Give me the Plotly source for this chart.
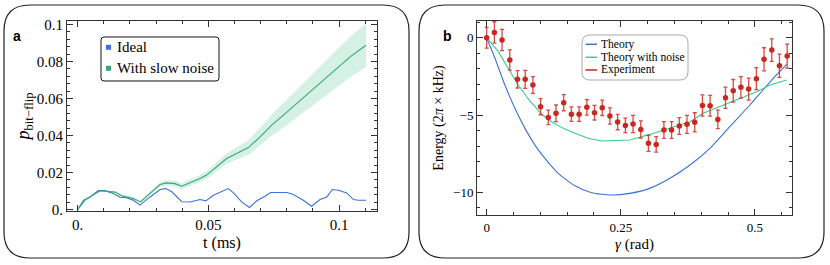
import plotly.graph_objects as go

W, H = 830, 265

# ---------------- Panel a data ----------------
ideal_t = [0, 0.0028, 0.0047, 0.0079, 0.0104, 0.0136, 0.0162, 0.0187, 0.0213, 0.0238,
           0.0277, 0.0315, 0.0337, 0.036, 0.0398, 0.043, 0.0468, 0.049, 0.0519, 0.055,
           0.0576, 0.0596, 0.0627, 0.0657, 0.0685, 0.0717, 0.0738, 0.08, 0.0825, 0.0863,
           0.0895, 0.0927, 0.0953, 0.0974, 0.0997, 0.1029, 0.1055, 0.1074, 0.1103]
ideal_p = [0, 0.0051, 0.0068, 0.0102, 0.0102, 0.0087, 0.0066, 0.0064, 0.005, 0.0024,
           0.0068, 0.0108, 0.0113, 0.0096, 0.0042, 0.0041, 0.0054, 0.0047, 0.0077, 0.0095,
           0.0113, 0.009, 0.0041, 0.0011, 0.0047, 0.0072, 0.0092, 0.0092, 0.0081, 0.005,
           0.0018, 0.0054, 0.0068, 0.0108, 0.0104, 0.009, 0.0054, 0.005, 0.005]

noise_t = [0, 0.0022, 0.0047, 0.0085, 0.011, 0.0143, 0.0168, 0.0213, 0.024, 0.0277,
           0.0315, 0.034, 0.0372, 0.0398, 0.043, 0.0468, 0.0493, 0.0532, 0.057, 0.0608,
           0.0653, 0.0698, 0.0742, 0.0787, 0.0838, 0.0889, 0.094, 0.0991, 0.1042, 0.1103]
noise_p = [0, 0.005, 0.0068, 0.0101, 0.0099, 0.0094, 0.0074, 0.0059, 0.0041, 0.0086,
           0.0135, 0.0144, 0.014, 0.0126, 0.0144, 0.0168, 0.0186, 0.0231, 0.0276, 0.0303,
           0.0335, 0.0393, 0.0456, 0.051, 0.0573, 0.0636, 0.0703, 0.0762, 0.0825, 0.0888]
noise_lo = [0, 0.0048, 0.0065, 0.0097, 0.0095, 0.0089, 0.0067, 0.0051, 0.0033, 0.0076,
            0.0123, 0.013, 0.0125, 0.011, 0.0127, 0.0149, 0.0165, 0.0207, 0.0248, 0.027,
            0.0295, 0.0345, 0.0399, 0.0444, 0.0498, 0.0552, 0.061, 0.066, 0.0715, 0.0771]
noise_hi = [0, 0.0052, 0.0071, 0.0105, 0.0103, 0.0099, 0.0081, 0.0067, 0.0049, 0.0096,
            0.0147, 0.0158, 0.0155, 0.0142, 0.0161, 0.0187, 0.0207, 0.0255, 0.0304, 0.0336,
            0.0375, 0.0441, 0.0513, 0.0576, 0.0648, 0.072, 0.0796, 0.0864, 0.0935, 0.1005]

a_xticks = [0, 0.05, 0.1]
a_xlabels = ["0.", "0.05", "0.1"]
a_yticks = [0, 0.02, 0.04, 0.06, 0.08, 0.1]
a_ylabels = ["0.", "0.02", "0.04", "0.06", "0.08", "0.1"]

# ---------------- Panel b data ----------------
exp_g = [0, 0.0144, 0.0287, 0.0431, 0.0574, 0.0718, 0.0862, 0.1005, 0.1149, 0.1292,
         0.1436, 0.1579, 0.1723, 0.1867, 0.2010, 0.2154, 0.2297, 0.2441, 0.2585, 0.2728,
         0.2872, 0.3015, 0.3159, 0.3303, 0.3446, 0.3590, 0.3733, 0.3877, 0.4021, 0.4164,
         0.4308, 0.4451, 0.4595, 0.4738, 0.4882, 0.5026, 0.5169, 0.5313, 0.5456, 0.56]
exp_E = [0, 0.34, -0.15, -1.44, -2.69, -2.69, -3.06, -4.46, -5.15, -4.89,
         -4.2, -4.94, -4.94, -4.5, -4.85, -4.53, -5.06, -5.45, -5.67, -5.58,
         -5.93, -6.83, -6.9, -5.97, -5.97, -5.71, -5.6, -5.47, -4.38, -4.4,
         -5.28, -3.88, -3.43, -3.21, -3.32, -2.65, -1.4, -0.8, -1.81, -1.19]
exp_err = [0.67, 0.69, 0.69, 0.65, 0.56, 0.58, 0.54, 0.52, 0.47, 0.54,
           0.52, 0.47, 0.47, 0.5, 0.47, 0.5, 0.52, 0.5, 0.47, 0.56,
           0.56, 0.52, 0.5, 0.54, 0.54, 0.54, 0.58, 0.62, 0.69, 0.67,
           0.6, 0.69, 0.73, 0.69, 0.71, 0.71, 0.75, 0.73, 0.75, 0.78]

theory_g = [0, 0.0155, 0.034, 0.0527, 0.0714, 0.09, 0.1086, 0.1334, 0.1645, 0.1956,
            0.2329, 0.267, 0.304, 0.3415, 0.379, 0.416, 0.453, 0.4905, 0.515, 0.54, 0.559]
theory_E = [0, -1.33, -3.06, -4.56, -5.86, -6.94, -7.8, -8.77, -9.57, -10.02,
            -10.17, -10.06, -9.74, -9.09, -8.23, -7.15, -5.75, -4.35, -3.38, -2.41, -1.72]

tnoise_g = [0, 0.0217, 0.04, 0.0589, 0.0775, 0.1024, 0.121, 0.1428, 0.1645, 0.189,
            0.214, 0.2515, 0.267, 0.304, 0.3415, 0.379, 0.4035, 0.4408, 0.478, 0.503,
            0.528, 0.559]
tnoise_E = [0, -0.9, -1.98, -3.06, -3.96, -4.95, -5.43, -5.86, -6.18, -6.5,
            -6.68, -6.63, -6.61, -6.25, -5.86, -5.43, -4.89, -4.35, -3.81, -3.49,
            -3.06, -2.73]

b_xticks = [0, 0.25, 0.5]
b_xlabels = ["0", "0.25", "0.5"]
b_yticks = [0, -5, -10]
b_ylabels = ["0", "−5", "−10"]

# ---------------- Styles ----------------
BLUE = "#3d72d8"
GREEN_A = "#34a878"
GREEN_B = "#3ccb8c"
BAND = "rgba(120,210,170,0.32)"
RED = "#c8281e"
AXC = "#333333"
SERIF = "Liberation Serif, Times New Roman, Times, serif"
SANS = "Liberation Sans, Arial, sans-serif"


def px(x):
    return x / W


def py(y):
    return 1 - y / H


def rrect(x0, y0, x1, y1, r):
    pts = [
        ("M", [(x0 + r, y0)]),
        ("L", [(x1 - r, y0)]),
        ("Q", [(x1, y0), (x1, y0 + r)]),
        ("L", [(x1, y1 - r)]),
        ("Q", [(x1, y1), (x1 - r, y1)]),
        ("L", [(x0 + r, y1)]),
        ("Q", [(x0, y1), (x0, y1 - r)]),
        ("L", [(x0, y0 + r)]),
        ("Q", [(x0, y0), (x0 + r, y0)]),
    ]
    s = ""
    for cmd, coords in pts:
        s += cmd + " " + " ".join(f"{px(a):.5f},{py(b):.5f}" for a, b in coords) + " "
    return s + "Z"


fig = go.Figure()

# Panel a
fig.add_trace(go.Scatter(
    x=noise_t + noise_t[::-1], y=noise_hi + noise_lo[::-1], fill="toself",
    fillcolor=BAND, line=dict(width=0), mode="lines", hoverinfo="skip",
    showlegend=False, xaxis="x", yaxis="y"))
fig.add_trace(go.Scatter(x=ideal_t, y=ideal_p, mode="lines", name="Ideal",
                         line=dict(color=BLUE, width=1.1), xaxis="x", yaxis="y"))
fig.add_trace(go.Scatter(x=noise_t, y=noise_p, mode="lines", name="With slow noise",
                         line=dict(color=GREEN_A, width=1.1), xaxis="x", yaxis="y"))

# Panel b
fig.add_trace(go.Scatter(x=theory_g, y=theory_E, mode="lines", name="Theory",
                         line=dict(color=BLUE, width=1.1, shape="spline", smoothing=0.6),
                         xaxis="x2", yaxis="y2"))
fig.add_trace(go.Scatter(x=tnoise_g, y=tnoise_E, mode="lines", name="Theory with noise",
                         line=dict(color=GREEN_B, width=1.1), xaxis="x2", yaxis="y2"))
fig.add_trace(go.Scatter(x=exp_g, y=exp_E, mode="markers", name="Experiment",
                         marker=dict(color=RED, size=5.5, symbol="circle"),
                         error_y=dict(type="data", array=exp_err, color="rgba(205,45,35,0.85)",
                                      thickness=1.3, width=2),
                         xaxis="x2", yaxis="y2"))

axis_common = dict(showline=True, linecolor=AXC, linewidth=1, mirror="ticks",
                   ticks="inside", ticklen=6, tickcolor=AXC, tickwidth=1,
                   showgrid=False, zeroline=False, automargin=False)

fig.update_layout(
    template="none",
    width=W, height=H, margin=dict(l=0, r=0, t=0, b=0, pad=0),
    paper_bgcolor="white", plot_bgcolor="white", showlegend=False,
    font=dict(family=SERIF, color="black"),
    xaxis=dict(domain=[px(67), px(377)], range=[-0.0041, 0.1145], anchor="y",
               tickvals=a_xticks, ticktext=a_xlabels,
               tickfont=dict(family=SERIF, size=15, color="black"),
               minor=dict(ticks="inside", ticklen=3, dtick=0.01, tick0=0, tickcolor=AXC),
               title=dict(text="t (ms)", font=dict(family=SERIF, size=16, color="black"),
                          standoff=4),
               **axis_common),
    yaxis=dict(domain=[py(211), py(21)], range=[-0.0008, 0.1019], anchor="x",
               tickvals=a_yticks, ticktext=a_ylabels,
               tickfont=dict(family=SERIF, size=15, color="black"),
               minor=dict(ticks="inside", ticklen=3, dtick=0.004, tick0=0, tickcolor=AXC),
               title=dict(text="<i>p</i><sub>bit−flip</sub>",
                          font=dict(family=SERIF, size=18, color="black"), standoff=2),
               **axis_common),
    xaxis2=dict(domain=[px(477), px(792)], range=[-0.018, 0.569], anchor="y2",
                tickvals=b_xticks, ticktext=b_xlabels,
                tickfont=dict(family=SERIF, size=13, color="black"),
                minor=dict(ticks="inside", ticklen=3, dtick=0.05, tick0=0, tickcolor=AXC),
                title=dict(text="<i>γ</i> (rad)", font=dict(family=SERIF, size=15, color="black"),
                           standoff=4),
                **axis_common),
    yaxis2=dict(domain=[py(215), py(21)], range=[-11.46, 1.08], anchor="x2",
                tickvals=b_yticks, ticktext=b_ylabels,
                tickfont=dict(family=SERIF, size=13, color="black"),
                minor=dict(ticks="inside", ticklen=3, dtick=1, tick0=0, tickcolor=AXC),
                title=dict(text="Energy (2<i>π</i> × kHz)",
                           font=dict(family=SERIF, size=14, color="black"), standoff=6),
                **axis_common),
)

shapes = []
# panel frames
shapes.append(dict(type="path", xref="paper", yref="paper", path=rrect(4, 5, 409, 258, 26),
                   line=dict(color="#222", width=1.2), layer="below"))
shapes.append(dict(type="path", xref="paper", yref="paper", path=rrect(419, 5, 824, 258, 26),
                   line=dict(color="#222", width=1.2), layer="below"))
# legend a box and swatches
shapes.append(dict(type="path", xref="paper", yref="paper", path=rrect(101, 37, 219, 81, 3),
                   line=dict(color="#111", width=1), fillcolor="white", layer="above"))
shapes.append(dict(type="rect", xref="paper", yref="paper", x0=px(106), x1=px(111),
                   y0=py(49.8), y1=py(44.8), fillcolor=BLUE, line=dict(width=0)))
shapes.append(dict(type="rect", xref="paper", yref="paper", x0=px(106), x1=px(111),
                   y0=py(70.8), y1=py(65.8), fillcolor=GREEN_A, line=dict(width=0)))
# legend b box and swatches
shapes.append(dict(type="path", xref="paper", yref="paper", path=rrect(582, 35, 688, 80, 8),
                   line=dict(color="#aaaaaa", width=1), fillcolor="white", layer="above"))
for yy, cc in [(44.3, BLUE), (57.3, GREEN_B), (70.0, RED)]:
    shapes.append(dict(type="line", xref="paper", yref="paper", x0=px(585.5), x1=px(597),
                       y0=py(yy), y1=py(yy), line=dict(color=cc, width=1.5)))

annotations = []
for txt, yy in [("Ideal", 47.3), ("With slow noise", 68.3)]:
    annotations.append(dict(text=txt, xref="paper", yref="paper", x=px(114.5), y=py(yy),
                            xanchor="left", yanchor="middle", showarrow=False,
                            font=dict(family=SERIF, size=15, color="black")))
for txt, yy in [("Theory", 44.3), ("Theory with noise", 57.3), ("Experiment", 70.0)]:
    annotations.append(dict(text=txt, xref="paper", yref="paper", x=px(599), y=py(yy),
                            xanchor="left", yanchor="middle", showarrow=False,
                            font=dict(family=SERIF, size=11.5, color="black")))
annotations.append(dict(text="<b>a</b>", xref="paper", yref="paper", x=px(17), y=py(36.5),
                        xanchor="center", yanchor="middle", showarrow=False,
                        font=dict(family=SANS, size=14, color="black")))
annotations.append(dict(text="<b>b</b>", xref="paper", yref="paper", x=px(447), y=py(36.5),
                        xanchor="center", yanchor="middle", showarrow=False,
                        font=dict(family=SANS, size=14, color="black")))

fig.update_layout(shapes=shapes, annotations=annotations)

fig.write_html("out.html", config={"displayModeBar": False},
               post_script="document.body.style.margin='0';document.body.style.overflow='hidden';")
